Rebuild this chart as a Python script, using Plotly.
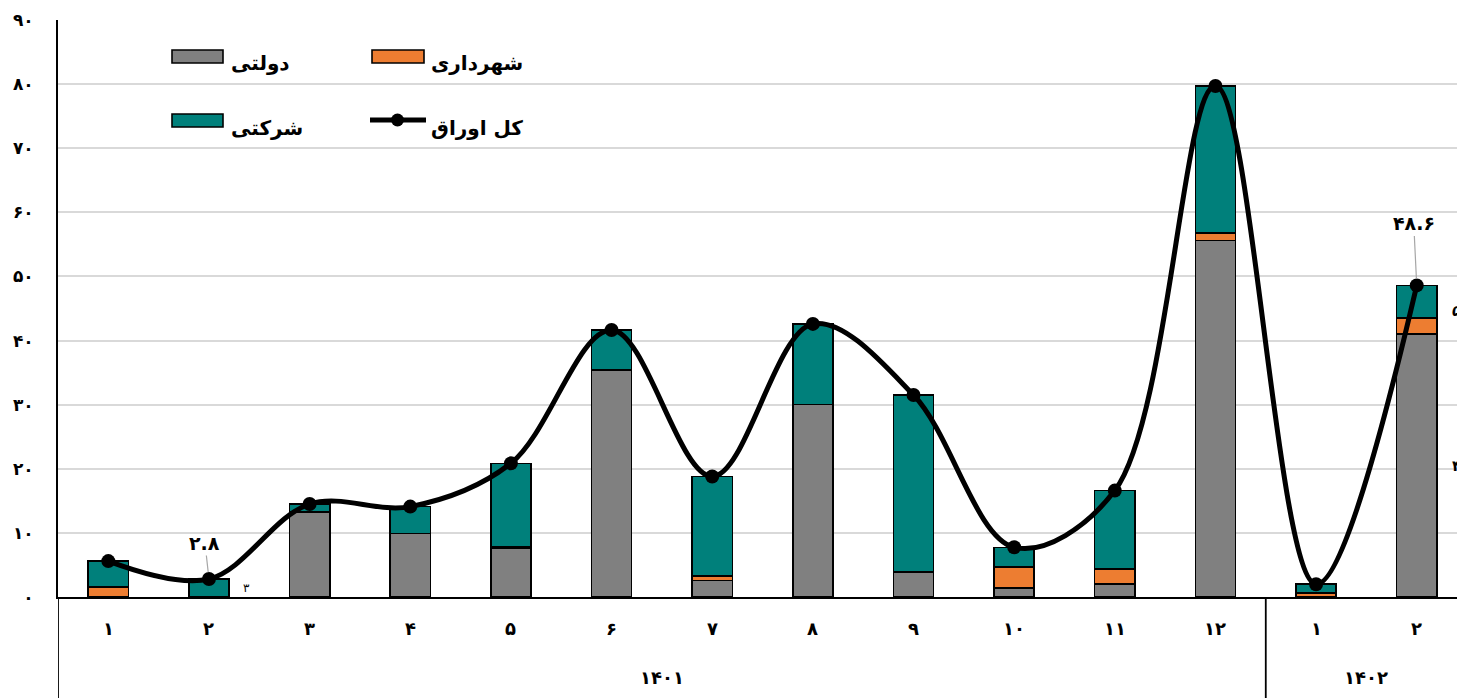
import plotly.graph_objects as go

FA = str.maketrans("0123456789", "۰۱۲۳۴۵۶۷۸۹")
def fa(s):
    return str(s).translate(FA)

# ---------------- data ----------------
years = ["1401"] * 12 + ["1402"] * 2
months = ["1", "2", "3", "4", "5", "6", "7", "8", "9", "10", "11", "12", "1", "2"]
dolati = [0.0, 0.0, 13.3, 9.9, 7.6, 35.4, 2.6, 30.0, 3.9, 1.45, 2.0, 55.6, 0.0, 41.0]
shahrdari = [1.6, 0.0, 0.0, 0.0, 0.25, 0.0, 0.7, 0.0, 0.0, 3.2, 2.4, 1.2, 0.6, 2.5]
sherkati = [4.0, 2.8, 1.2, 4.2, 13.0, 6.25, 15.5, 12.6, 27.6, 3.1, 12.2, 22.9, 1.4, 5.1]
total = [round(a + b + c, 2) for a, b, c in zip(dolati, shahrdari, sherkati)]
y_ticks = [0, 10, 20, 30, 40, 50, 60, 70, 80, 90]

names = {"dolati": "دولتی", "shahrdari": "شهرداری", "sherkati": "شرکتی", "total": "کل اوراق"}
colors = {"dolati": "#808080", "shahrdari": "#ED7D31", "sherkati": "#00807B", "total": "#000000"}

xcat = [[fa(y) for y in years], [fa(m) for m in months]]

FONT = "DejaVu Sans"
W, H = 1457, 698
ML, MR, MT, MB = 58, 0, 20, 101
PW, PH = W - ML - MR, H - MT - MB

def px(x):
    return (x - ML) / PW
def py(y):
    return (H - MB - y) / PH

fig = go.Figure()
for key, vals in (("dolati", dolati), ("shahrdari", shahrdari), ("sherkati", sherkati)):
    fig.add_trace(go.Bar(
        x=xcat, y=vals, name=names[key], marker=dict(color=colors[key], line=dict(color="black", width=1.6)),
        width=0.4, showlegend=False, hoverinfo="y"))

fig.add_trace(go.Scatter(
    x=xcat, y=total, name=names["total"], mode="lines+markers",
    line=dict(color="black", width=5, shape="spline", smoothing=1.0),
    marker=dict(color="black", size=14), showlegend=False))

shapes = []
annotations = []

# ---------------- x-axis labels (two levels) and dividers ----------------
for i, m in enumerate(months):
    annotations.append(dict(x=i, y=0, xref="x", yref="paper", yshift=-31, text="<b>%s</b>" % fa(m),
                            showarrow=False, yanchor="middle", font=dict(family=FONT, size=18, color="black")))
groups = []
for i, yv in enumerate(years):
    if not groups or groups[-1][0] != yv:
        groups.append([yv, i, i])
    else:
        groups[-1][2] = i
for yv, i0, i1 in groups:
    annotations.append(dict(x=(i0 + i1) / 2, y=0, xref="x", yref="paper", yshift=-80, text="<b>%s</b>" % fa(yv),
                            showarrow=False, yanchor="middle", font=dict(family=FONT, size=18, color="black")))
    shapes.append(dict(type="line", xref="x", yref="paper", x0=i0 - 0.5, x1=i0 - 0.5, y0=0, y1=-MB / PH,
                       line=dict(color="black", width=1.8)))

# ---------------- manual legend ----------------
legend_items = [
    ("dolati", 172, 223, 50, 63, 229, 63),
    ("shahrdari", 372, 424, 50, 63, 429, 63),
    ("sherkati", 172, 223, 114, 127, 229, 128),
]
for key, x0, x1, y0, y1, tx, ty in legend_items:
    shapes.append(dict(type="rect", xref="paper", yref="paper", x0=px(x0), x1=px(x1), y0=py(y1), y1=py(y0),
                       fillcolor=colors[key], line=dict(color="black", width=1.6)))
    annotations.append(dict(xref="paper", yref="paper", x=px(tx), y=py(ty), text="<b>%s</b>" % names[key],
                            showarrow=False, xanchor="left", yanchor="middle",
                            font=dict(family=FONT, size=20, color="black")))
shapes.append(dict(type="line", xref="paper", yref="paper", x0=px(370), x1=px(426), y0=py(120), y1=py(120),
                   line=dict(color="black", width=5)))
shapes.append(dict(type="circle", xref="paper", yref="paper", x0=px(391), x1=px(404), y0=py(126.5), y1=py(113.5),
                   fillcolor="black", line=dict(color="black", width=0)))
annotations.append(dict(xref="paper", yref="paper", x=px(429), y=py(128), text="<b>%s</b>" % names["total"],
                        showarrow=False, xanchor="left", yanchor="middle",
                        font=dict(family=FONT, size=20, color="black")))

# ---------------- data labels ----------------
annotations.append(dict(x=1, y=total[1], xref="x", yref="y", text="<b>%s</b>" % fa("2.8"),
                        showarrow=True, arrowhead=0, arrowwidth=1.2, arrowcolor="#a6a6a6",
                        ax=-4, ay=-36, standoff=7, font=dict(family=FONT, size=19, color="black")))
annotations.append(dict(x=13, y=total[13], xref="x", yref="y", text="<b>%s</b>" % fa("48.6"),
                        showarrow=True, arrowhead=0, arrowwidth=1.2, arrowcolor="#a6a6a6",
                        ax=-3, ay=-62, standoff=7, font=dict(family=FONT, size=19, color="black")))
annotations.append(dict(x=1.32, y=sherkati[1] / 2, xref="x", yref="y", text=fa(3), showarrow=False,
                        xanchor="left", font=dict(family=FONT, size=12, color="black")))
annotations.append(dict(x=13.33, y=dolati[13] + shahrdari[13] + sherkati[13] / 2 - 1.5, xref="x", yref="y",
                        text="<b>%s</b>" % fa(5), showarrow=False, xanchor="left",
                        font=dict(family=FONT, size=15, color="black")))
annotations.append(dict(x=13.33, y=dolati[13] / 2, xref="x", yref="y", text="<b>%s</b>" % fa(41), showarrow=False,
                        xanchor="left", font=dict(family=FONT, size=15, color="black")))

fig.update_layout(
    width=W, height=H, barmode="stack", bargap=0.6,
    margin=dict(l=ML, r=MR, t=MT, b=MB, pad=0),
    paper_bgcolor="white", plot_bgcolor="white",
    font=dict(family=FONT, color="black"),
    shapes=shapes, annotations=annotations,
    xaxis=dict(type="multicategory", range=[-0.5, 13.4], showline=True, linecolor="black", linewidth=1.8,
               showgrid=False, ticks="", showdividers=False, showticklabels=False),
    yaxis=dict(range=[0, 90], tickvals=y_ticks, ticktext=["<b>%s</b>" % fa(v) for v in y_ticks],
               showline=True, linecolor="black", linewidth=1.8, showgrid=True, gridcolor="#d9d9d9",
               gridwidth=1.5, zeroline=False, ticks="", ticklabelstandoff=19,
               tickfont=dict(family=FONT, size=17, color="black")),
)

fig.write_html("out.html", config={"displayModeBar": False},
               post_script="document.body.style.margin='0px';document.body.style.overflow='hidden';")
